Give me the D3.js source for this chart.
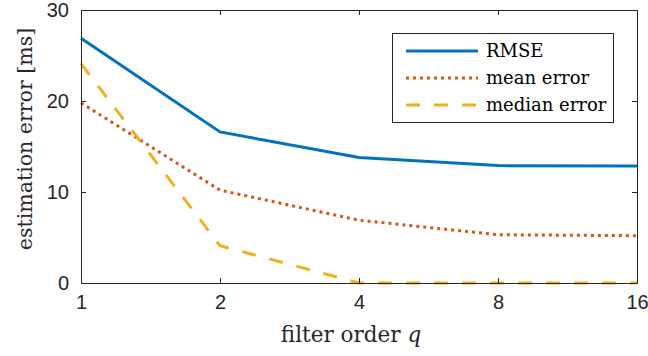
<!DOCTYPE html>
<html><head><meta charset="utf-8">
<script src="https://cdn.jsdelivr.net/npm/d3@7"></script>
<style>body{margin:0;background:#fff}</style>
</head><body>
<svg id="c" width="648" height="356"></svg>
<script>
const categories = [1, 2, 4, 8, 16];
const rmse = [26.9, 16.6, 13.8, 12.9, 12.85];
const meanError = [19.8, 10.2, 6.9, 5.3, 5.2];
const medianError = [24.1, 4.1, 0, 0, 0];
const yTicks = [0, 10, 20, 30];
const seriesNames = ["RMSE", "mean error", "median error"];

const svg = d3.select("#c");
const L = 81, R = 637, T = 10, B = 283;
const x = d3.scaleLog().base(2).domain([1, 16]).range([L, R]);
const y = d3.scaleLinear().domain([0, 30]).range([B, T]);
const axisColor = "#262626";
const tickFont = "Liberation Sans, Arial, sans-serif";
const serif = "DejaVu Serif, Liberation Serif, serif";

const series = [
  {name: seriesNames[0], values: rmse, color: "#0072BD", dash: null},
  {name: seriesNames[1], values: meanError, color: "#D95319", dash: "3,4"},
  {name: seriesNames[2], values: medianError, color: "#EDB120", dash: "14,14"}
];

const line = d3.line().x((d, i) => x(categories[i])).y(d => y(d));
series.forEach(s => {
  svg.append("path").attr("d", line(s.values)).attr("fill", "none")
    .attr("stroke", s.color).attr("stroke-width", 3)
    .attr("stroke-dasharray", s.dash);
});

// axes
const gx = svg.append("g").attr("transform", `translate(0,${B})`)
  .call(d3.axisBottom(x).tickValues(categories).tickFormat(d3.format("d")).tickSizeInner(-5).tickSizeOuter(0).tickPadding(12));
const gxt = svg.append("g").attr("transform", `translate(0,${T})`)
  .call(d3.axisTop(x).tickValues(categories).tickFormat("").tickSizeInner(-5).tickSizeOuter(0));
const gy = svg.append("g").attr("transform", `translate(${L},0)`)
  .call(d3.axisLeft(y).tickValues(yTicks).tickSizeInner(-5).tickSizeOuter(0).tickPadding(12));
const gyr = svg.append("g").attr("transform", `translate(${R},0)`)
  .call(d3.axisRight(y).tickValues(yTicks).tickFormat("").tickSizeInner(-5).tickSizeOuter(0));
[gx, gxt, gy, gyr].forEach(g => {
  g.selectAll("path").attr("stroke", axisColor).attr("stroke-width", 1);
  g.selectAll("line").attr("stroke", axisColor).attr("stroke-width", 1);
  g.selectAll("text").attr("fill", axisColor).attr("font-family", tickFont).attr("font-size", 20);
});
gx.selectAll("text").attr("dy", "0.71em");

// labels
svg.append("text").attr("x", 351).attr("y", 342).attr("text-anchor", "middle")
  .attr("font-family", serif).attr("font-size", 21.5).attr("fill", axisColor)
  .html('filter order <tspan font-style="italic">q</tspan>');
svg.append("text").attr("transform", `translate(32,139) rotate(-90)`)
  .attr("text-anchor", "middle").attr("font-family", serif).attr("font-size", 20.5)
  .attr("fill", axisColor).text("estimation error [ms]");

// legend
const lg = svg.append("g");
lg.append("rect").attr("x", 392.5).attr("y", 33.5).attr("width", 221).attr("height", 89)
  .attr("fill", "#fff").attr("stroke", axisColor).attr("stroke-width", 1);
series.forEach((s, i) => {
  const yy = 51 + i * 27;
  lg.append("line").attr("x1", 406).attr("x2", 478).attr("y1", yy).attr("y2", yy)
    .attr("stroke", s.color).attr("stroke-width", 3).attr("stroke-dasharray", s.dash);
  lg.append("text").attr("x", 486).attr("y", yy).attr("dy", "0.35em")
    .attr("font-family", serif).attr("font-size", 18).attr("fill", "#000").text(s.name);
});
</script>
</body></html>
